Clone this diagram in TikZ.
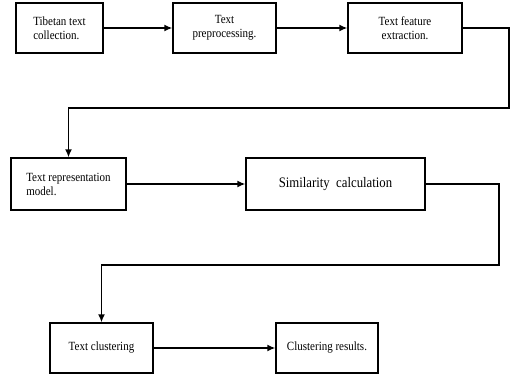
\documentclass[tikz,border=0pt]{standalone}
\usepackage{fontspec}
\setmainfont{Liberation Serif}[FakeStretch=0.88]
\tikzset{
  stepbox/.style={draw, line width=0.05cm, fill=white, inner sep=2pt, align=left, font=\fontsize{12.5}{14}\selectfont},
  flowline/.style={line width=0.05cm},
  flowarrow/.style={line width=0.05cm, -{Latex[length=8pt,width=7pt]}}
}
\usetikzlibrary{arrows.meta}
\begin{document}
\begin{tikzpicture}[x=1pt,y=-1pt]
            % \clip (0,0) rectangle (513,377);
            \useasboundingbox (0,0) rectangle (513,377);%

            % Drawing first row of boxes
            \node [stepbox, minimum width=87pt, minimum height=50pt] (collect) at (59.5,28) {Tibetan text\\collection.};%
            \node [stepbox, minimum width=103pt, minimum height=50pt, align=center] (prep) at (224.5,28) {Text\\preprocessing.};%
            \node [stepbox, minimum width=114pt, minimum height=50pt, align=center] (feat) at (405,28) {Text feature\\extraction.};%

            % Drawing second row of boxes
            \node [stepbox, minimum width=115pt, minimum height=52pt] (model) at (68.5,184) {Text representation\\model.};%
            \node [stepbox, minimum width=179pt, minimum height=52pt, font=\fontsize{14.5}{16}\selectfont] (simil) at (335.5,184) {Similarity\ \ calculation};%

            % Drawing third row of boxes
            \node [stepbox, minimum width=103pt, minimum height=50pt] (clust) at (101.5,348) {Text clustering};%
            \node [stepbox, minimum width=102pt, minimum height=50pt] (result) at (327,348) {Clustering results.};%

            % Turning points of the long lines
            \coordinate (turnA) at (509,108);%
            \coordinate (turnB) at (499,265);%

            % Drawing arrows of first row
            \draw [flowarrow] (collect) -- (prep);%
            \draw [flowarrow] (prep) -- (feat);%

            % Drawing line feat model
            \draw [flowarrow] (feat.east) -| (turnA) -| (model.north);%

            % Drawing arrow model simil
            \draw [flowarrow] (model) -- (simil);%

            % Drawing line simil clust
            \draw [flowarrow] (simil.east) -| (turnB) -| (clust.north);%

            % Drawing arrow clust result
            \draw [flowarrow] (clust) -- (result);%
            \end{tikzpicture}
\end{document}
